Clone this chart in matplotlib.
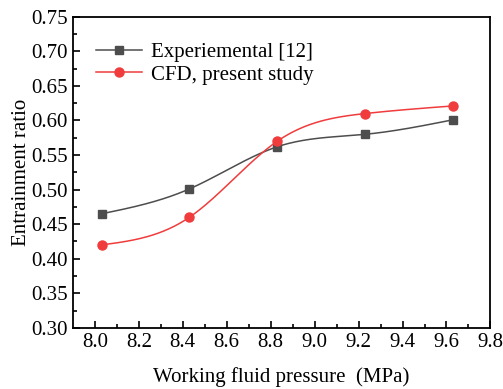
import numpy as np
import matplotlib.pyplot as plt

pressure = [8.03, 8.43, 8.83, 9.23, 9.63]
experimental = [0.465, 0.501, 0.562, 0.580, 0.601]
cfd = [0.420, 0.460, 0.570, 0.610, 0.621]


def natural_spline(x, y, n=200):
    x = np.asarray(x, float)
    y = np.asarray(y, float)
    k = len(x)
    h = np.diff(x)
    a = np.zeros((k, k))
    b = np.zeros(k)
    a[0, 0] = a[-1, -1] = 1
    for i in range(1, k - 1):
        a[i, i - 1] = h[i - 1]
        a[i, i] = 2 * (h[i - 1] + h[i])
        a[i, i + 1] = h[i]
        b[i] = 6 * ((y[i + 1] - y[i]) / h[i] - (y[i] - y[i - 1]) / h[i - 1])
    m = np.linalg.solve(a, b)
    xs = np.linspace(x[0], x[-1], n)
    idx = np.clip(np.searchsorted(x, xs) - 1, 0, k - 2)
    x0, x1 = x[idx], x[idx + 1]
    hh = x1 - x0
    t0 = x1 - xs
    t1 = xs - x0
    ys = (m[idx] * t0**3 + m[idx + 1] * t1**3) / (6 * hh) \
        + (y[idx] / hh - m[idx] * hh / 6) * t0 \
        + (y[idx + 1] / hh - m[idx + 1] * hh / 6) * t1
    return xs, ys


plt.rcParams["font.family"] = "Liberation Serif"
plt.rcParams["font.size"] = 15

fig, ax = plt.subplots(figsize=(5.03, 3.89), dpi=100)
fig.subplots_adjust(left=0.145, right=0.975, top=0.957, bottom=0.157)

grey = "#4d4d4d"
red = "#f03c3c"

xs, ys = natural_spline(pressure, experimental)
ax.plot(xs, ys, color=grey, lw=1.1)
ax.plot(pressure, experimental, "s", color=grey, ms=6)
xs, ys = natural_spline(pressure, cfd)
ax.plot(xs, ys, color=red, lw=1.1)
ax.plot(pressure, cfd, "o", color=red, ms=6.5)

ax.plot([], [], "-s", color=grey, lw=1.1, ms=6, label="Experiemental [12]")
ax.plot([], [], "-o", color=red, lw=1.1, ms=6.5, label="CFD, present study")
ax.legend(loc="upper left", bbox_to_anchor=(-0.005, 0.998), frameon=False,
          handlelength=2.2, handletextpad=0.45, borderaxespad=0.8,
          labelspacing=0.15)

ax.set_xlim(7.9, 9.8)
ax.set_ylim(0.30, 0.75)
ax.set_xticks(np.arange(8.0, 9.81, 0.2))
ax.set_xticks(np.arange(8.1, 9.8, 0.2), minor=True)
ax.set_yticks(np.arange(0.30, 0.751, 0.05))
ax.set_yticks(np.arange(0.325, 0.75, 0.05), minor=True)
ax.tick_params(direction="in", which="major", length=5, width=1.2)
ax.tick_params(direction="in", which="minor", length=3, width=1.2)
ax.set_xticklabels([f"{v:.1f}" for v in np.arange(8.0, 9.81, 0.2)])
ax.set_yticklabels([f"{v:.2f}" for v in np.arange(0.30, 0.751, 0.05)])
for s in ax.spines.values():
    s.set_linewidth(1.3)

ax.set_xlabel("Working fluid pressure  (MPa)", labelpad=11)
ax.set_ylabel("Entrainment ratio", labelpad=0)

fig.savefig("out.png", dpi=100)
